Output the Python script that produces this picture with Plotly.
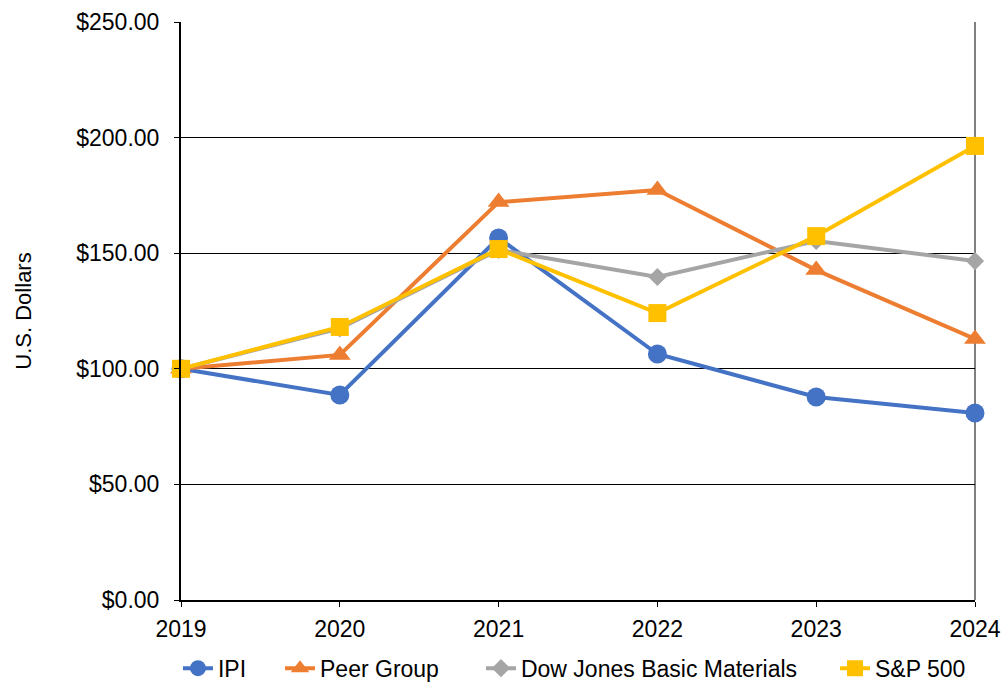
import plotly.graph_objects as go

years = [2019, 2020, 2021, 2022, 2023, 2024]
ipi = [100.0, 88.7, 156.6, 106.4, 87.8, 80.9]
peer = [100.0, 106.0, 172.1, 177.3, 142.7, 112.9]
dow = [100.0, 117.5, 151.4, 139.7, 155.3, 146.6]
sp500 = [100.0, 118.1, 151.8, 124.1, 157.4, 196.4]
y_ticks = [0, 50, 100, 150, 200, 250]

series = [
    ("IPI", ipi, "#4472C4", "circle", 19),
    ("Peer Group", peer, "#ED7D31", "triangle-up", 19),
    ("Dow Jones Basic Materials", dow, "#A5A5A5", "diamond", 14),
    ("S&P 500", sp500, "#FFC000", "square", 18),
]
legend_ids = ["legend", "legend2", "legend3", "legend4"]
legend_x = [-0.0038, 0.1247, 0.3778, 0.8237]

fig = go.Figure()
for (name, vals, color, sym, size), lid in zip(series, legend_ids):
    fig.add_trace(go.Scatter(
        x=years, y=vals, name=name, mode="lines+markers",
        line=dict(color=color, width=4),
        marker=dict(symbol=sym, size=size, color=color, line=dict(width=0)),
        cliponaxis=False, legend=lid,
    ))

FAM = "Liberation Sans, Arial, sans-serif"
font = dict(family=FAM, size=23, color="#000000")

legends = {}
for lid, lx in zip(legend_ids, legend_x):
    legends[lid] = dict(orientation="h", x=lx, xanchor="left", y=-0.118, yanchor="middle",
                        font=font, itemwidth=30, bgcolor="rgba(0,0,0,0)")

fig.update_layout(
    width=1003, height=683,
    margin=dict(l=181, r=28, t=22, b=83, autoexpand=False),
    paper_bgcolor="white", plot_bgcolor="white",
    font=font,
    showlegend=True,
    xaxis=dict(range=[2019, 2024], tickmode="array", tickvals=years,
               ticktext=[str(y) for y in years],
               showgrid=False, zeroline=False, showline=True, linecolor="black",
               linewidth=2, ticks="outside", ticklen=5, tickwidth=1, tickcolor="black",
               tickfont=font, ticklabelstandoff=2),
    yaxis=dict(range=[0, 250], tickmode="array", tickvals=y_ticks,
               tickformat="$.2f",
               showgrid=True, gridcolor="black", gridwidth=1,
               zeroline=False, showline=True, linecolor="black", linewidth=2,
               ticks="outside", ticklen=5, tickwidth=1, tickcolor="black",
               tickfont=font, ticklabelstandoff=10,
               title=dict(text="U.S. Dollars", font=dict(family=FAM, size=22), standoff=39)),
    shapes=[dict(type="line", xref="paper", yref="paper", x0=1, x1=1, y0=0, y1=1,
                 line=dict(color="black", width=1), layer="below")],
    **legends,
)

fig.write_html("out.html")
